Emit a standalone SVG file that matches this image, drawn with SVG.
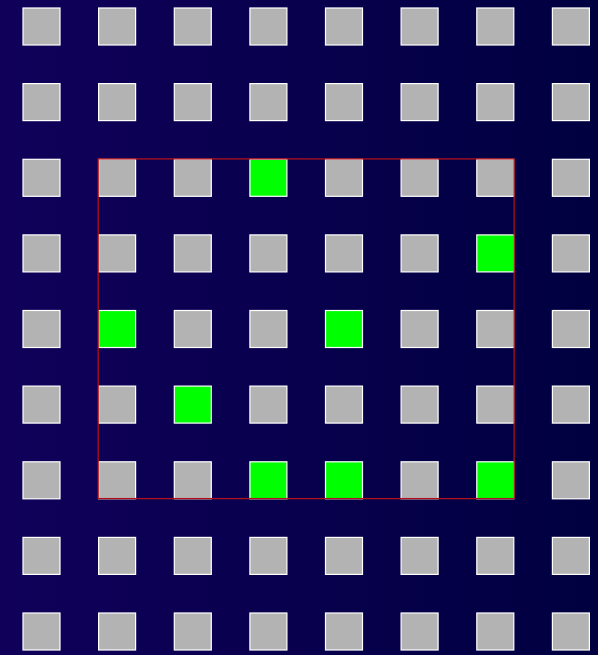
<svg xmlns="http://www.w3.org/2000/svg" width="598" height="655" viewBox="0 0 598 655">
<defs>
<linearGradient id="bg" x1="0" y1="0" x2="1" y2="0">
<stop offset="0" stop-color="#10005a"/>
<stop offset="1" stop-color="#000040"/>
</linearGradient>
<style>
.c{fill:#b3b3b3;stroke:#ffffff;stroke-width:1.2}
.g{fill:#00ff00;stroke:#ffffff;stroke-width:1.2}
.sel{fill:none;stroke:#b0101a;stroke-width:1.3}
</style>
</defs>
<rect width="598" height="655" fill="url(#bg)"/>
<g id="cells">
<g id="r0">
<rect class="c" x="23" y="8" width="37" height="37"/><rect class="c" x="98.6" y="8" width="37" height="37"/><rect class="c" x="174.3" y="8" width="37" height="37"/><rect class="c" x="249.9" y="8" width="37" height="37"/><rect class="c" x="325.5" y="8" width="37" height="37"/><rect class="c" x="401.1" y="8" width="37" height="37"/><rect class="c" x="476.8" y="8" width="37" height="37"/><rect class="c" x="552.4" y="8" width="37" height="37"/>
</g>
<g id="r1">
<rect class="c" x="23" y="83.6" width="37" height="37"/><rect class="c" x="98.6" y="83.6" width="37" height="37"/><rect class="c" x="174.3" y="83.6" width="37" height="37"/><rect class="c" x="249.9" y="83.6" width="37" height="37"/><rect class="c" x="325.5" y="83.6" width="37" height="37"/><rect class="c" x="401.1" y="83.6" width="37" height="37"/><rect class="c" x="476.8" y="83.6" width="37" height="37"/><rect class="c" x="552.4" y="83.6" width="37" height="37"/>
</g>
<g id="r2">
<rect class="c" x="23" y="159.3" width="37" height="37"/><rect class="c" x="98.6" y="159.3" width="37" height="37"/><rect class="c" x="174.3" y="159.3" width="37" height="37"/><rect class="g" x="249.9" y="159.3" width="37" height="37"/><rect class="c" x="325.5" y="159.3" width="37" height="37"/><rect class="c" x="401.1" y="159.3" width="37" height="37"/><rect class="c" x="476.8" y="159.3" width="37" height="37"/><rect class="c" x="552.4" y="159.3" width="37" height="37"/>
</g>
<g id="r3">
<rect class="c" x="23" y="234.9" width="37" height="37"/><rect class="c" x="98.6" y="234.9" width="37" height="37"/><rect class="c" x="174.3" y="234.9" width="37" height="37"/><rect class="c" x="249.9" y="234.9" width="37" height="37"/><rect class="c" x="325.5" y="234.9" width="37" height="37"/><rect class="c" x="401.1" y="234.9" width="37" height="37"/><rect class="g" x="476.8" y="234.9" width="37" height="37"/><rect class="c" x="552.4" y="234.9" width="37" height="37"/>
</g>
<g id="r4">
<rect class="c" x="23" y="310.5" width="37" height="37"/><rect class="g" x="98.6" y="310.5" width="37" height="37"/><rect class="c" x="174.3" y="310.5" width="37" height="37"/><rect class="c" x="249.9" y="310.5" width="37" height="37"/><rect class="g" x="325.5" y="310.5" width="37" height="37"/><rect class="c" x="401.1" y="310.5" width="37" height="37"/><rect class="c" x="476.8" y="310.5" width="37" height="37"/><rect class="c" x="552.4" y="310.5" width="37" height="37"/>
</g>
<g id="r5">
<rect class="c" x="23" y="386.1" width="37" height="37"/><rect class="c" x="98.6" y="386.1" width="37" height="37"/><rect class="g" x="174.3" y="386.1" width="37" height="37"/><rect class="c" x="249.9" y="386.1" width="37" height="37"/><rect class="c" x="325.5" y="386.1" width="37" height="37"/><rect class="c" x="401.1" y="386.1" width="37" height="37"/><rect class="c" x="476.8" y="386.1" width="37" height="37"/><rect class="c" x="552.4" y="386.1" width="37" height="37"/>
</g>
<g id="r6">
<rect class="c" x="23" y="461.8" width="37" height="37"/><rect class="c" x="98.6" y="461.8" width="37" height="37"/><rect class="c" x="174.3" y="461.8" width="37" height="37"/><rect class="g" x="249.9" y="461.8" width="37" height="37"/><rect class="g" x="325.5" y="461.8" width="37" height="37"/><rect class="c" x="401.1" y="461.8" width="37" height="37"/><rect class="g" x="476.8" y="461.8" width="37" height="37"/><rect class="c" x="552.4" y="461.8" width="37" height="37"/>
</g>
<g id="r7">
<rect class="c" x="23" y="537.4" width="37" height="37"/><rect class="c" x="98.6" y="537.4" width="37" height="37"/><rect class="c" x="174.3" y="537.4" width="37" height="37"/><rect class="c" x="249.9" y="537.4" width="37" height="37"/><rect class="c" x="325.5" y="537.4" width="37" height="37"/><rect class="c" x="401.1" y="537.4" width="37" height="37"/><rect class="c" x="476.8" y="537.4" width="37" height="37"/><rect class="c" x="552.4" y="537.4" width="37" height="37"/>
</g>
<g id="r8">
<rect class="c" x="23" y="613" width="37" height="37"/><rect class="c" x="98.6" y="613" width="37" height="37"/><rect class="c" x="174.3" y="613" width="37" height="37"/><rect class="c" x="249.9" y="613" width="37" height="37"/><rect class="c" x="325.5" y="613" width="37" height="37"/><rect class="c" x="401.1" y="613" width="37" height="37"/><rect class="c" x="476.8" y="613" width="37" height="37"/><rect class="c" x="552.4" y="613" width="37" height="37"/>
</g>
</g>
<g id="selection">
<rect class="sel" x="98.2" y="158.9" width="415.9" height="339.7"/>
</g>
</svg>
